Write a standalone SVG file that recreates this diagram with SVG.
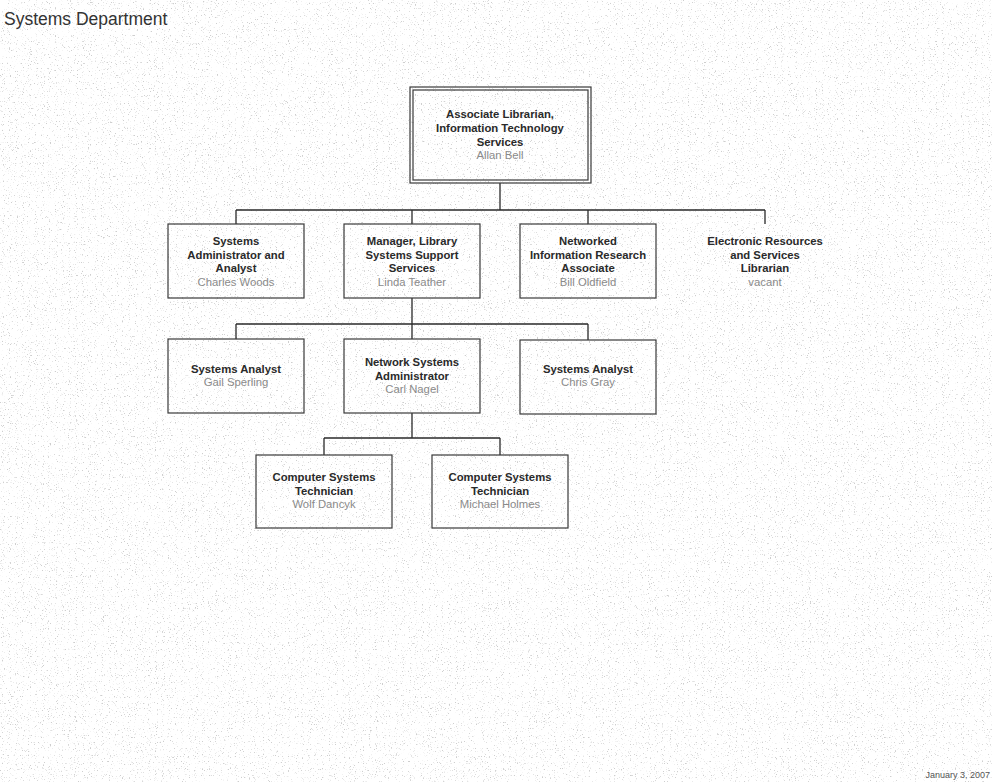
<svg xmlns="http://www.w3.org/2000/svg" width="992" height="782" viewBox="0 0 992 782">
<style>
.box{fill:none;stroke:#3a3a3a;stroke-width:1.2}
.t{font-family:"Liberation Sans",Arial,sans-serif;font-size:11.3px;font-weight:bold;fill:#2a2a2a;text-anchor:middle}
.n{font-family:"Liberation Sans",Arial,sans-serif;font-size:11.3px;fill:#8a8a8a;text-anchor:middle}
.c{fill:none;stroke:#2a2a2a;stroke-width:1.3}
</style>
<defs>
<filter id="noise" x="0" y="0" width="100%" height="100%">
<feTurbulence type="fractalNoise" baseFrequency="0.85" numOctaves="2" seed="7"/>
<feColorMatrix type="matrix" values="0 0 0 0 0.62  0 0 0 0 0.62  0 0 0 0 0.62  7 0 0 0 -4.4"/>
</filter>
</defs>
<rect x="0" y="0" width="992" height="782" fill="#ffffff"/>
<rect x="0" y="0" width="992" height="782" filter="url(#noise)"/>
<text x="4" y="25" font-family="'Liberation Sans',Arial,sans-serif" font-size="17.5" fill="#333">Systems Department</text>
<text x="990" y="778" text-anchor="end" font-family="'Liberation Sans',Arial,sans-serif" font-size="9" fill="#555">January 3, 2007</text>
<g id="connectors">
<path class="c" d="M500 183V210M236 210H765M236 210V224M412 210V224M588 210V224M765 210V224"/>
<path class="c" d="M412 298V339M236 324H588M236 324V339M588 324V340"/>
<path class="c" d="M412 413V438M324 438H500M324 438V455M500 438V455"/>
</g>
<g id="n-allan">
<rect class="box" x="410" y="87" width="181" height="96"/>
<rect class="box" x="413" y="90" width="175" height="90"/>
<text class="t" x="500" y="118">Associate Librarian,</text>
<text class="t" x="500" y="132">Information Technology</text>
<text class="t" x="500" y="146">Services</text>
<text class="n" x="500" y="159">Allan Bell</text>
</g>
<g id="n-charles">
<rect class="box" x="168" y="224" width="136" height="74"/>
<text class="t" x="236" y="245">Systems</text>
<text class="t" x="236" y="259">Administrator and</text>
<text class="t" x="236" y="272">Analyst</text>
<text class="n" x="236" y="286">Charles Woods</text>
</g>
<g id="n-linda">
<rect class="box" x="344" y="224" width="136" height="74"/>
<text class="t" x="412" y="245">Manager, Library</text>
<text class="t" x="412" y="259">Systems Support</text>
<text class="t" x="412" y="272">Services</text>
<text class="n" x="412" y="286">Linda Teather</text>
</g>
<g id="n-bill">
<rect class="box" x="520" y="224" width="136" height="74"/>
<text class="t" x="588" y="245">Networked</text>
<text class="t" x="588" y="259">Information Research</text>
<text class="t" x="588" y="272">Associate</text>
<text class="n" x="588" y="286">Bill Oldfield</text>
</g>
<g id="n-vacant">
<text class="t" x="765" y="245">Electronic Resources</text>
<text class="t" x="765" y="259">and Services</text>
<text class="t" x="765" y="272">Librarian</text>
<text class="n" x="765" y="286">vacant</text>
</g>
<g id="n-gail">
<rect class="box" x="168" y="339" width="136" height="74"/>
<text class="t" x="236" y="373">Systems Analyst</text>
<text class="n" x="236" y="386">Gail Sperling</text>
</g>
<g id="n-carl">
<rect class="box" x="344" y="339" width="136" height="74"/>
<text class="t" x="412" y="366">Network Systems</text>
<text class="t" x="412" y="380">Administrator</text>
<text class="n" x="412" y="393">Carl Nagel</text>
</g>
<g id="n-chris">
<rect class="box" x="520" y="340" width="136" height="74"/>
<text class="t" x="588" y="373">Systems Analyst</text>
<text class="n" x="588" y="386">Chris Gray</text>
</g>
<g id="n-wolf">
<rect class="box" x="256" y="455" width="136" height="73"/>
<text class="t" x="324" y="481">Computer Systems</text>
<text class="t" x="324" y="495">Technician</text>
<text class="n" x="324" y="508">Wolf Dancyk</text>
</g>
<g id="n-michael">
<rect class="box" x="432" y="455" width="136" height="73"/>
<text class="t" x="500" y="481">Computer Systems</text>
<text class="t" x="500" y="495">Technician</text>
<text class="n" x="500" y="508">Michael Holmes</text>
</g>
</svg>
